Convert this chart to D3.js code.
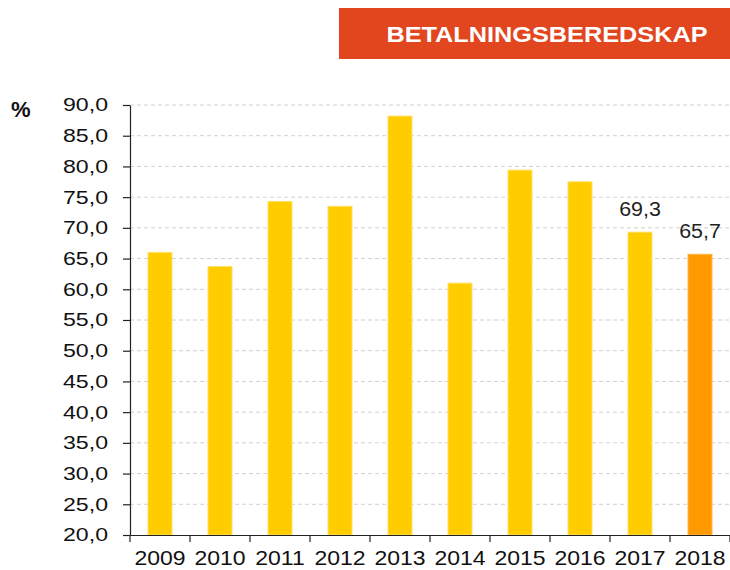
<!DOCTYPE html>
<html>
<head>
<meta charset="utf-8">
<script src="https://cdn.jsdelivr.net/npm/d3@7"></script>
<style>
  body { margin: 0; background: #fff; }
  svg { font-family: "Liberation Sans", Arial, sans-serif; }
</style>
</head>
<body>
<svg id="chart" width="730" height="570"></svg>
<script>
// data
const years = ['2009', '2010', '2011', '2012', '2013', '2014', '2015', '2016', '2017', '2018'];
const values = [66.0, 63.7, 74.3, 73.5, 88.2, 61.0, 79.4, 77.5, 69.3, 65.7];
const labelled = ['2017', '2018'];
const yTicks = [20, 25, 30, 35, 40, 45, 50, 55, 60, 65, 70, 75, 80, 85, 90];

const svg = d3.select('#chart');
const fmt = v => d3.format('.1f')(v).replace('.', ',');

const x = d3.scaleBand().domain(years).range([130, 730]).paddingInner(0.6).paddingOuter(0.3);
const y = d3.scaleLinear().domain([20, 90]).range([535, 105]);

// title box
svg.append('rect')
  .attr('x', 339).attr('y', 8).attr('width', 391).attr('height', 51)
  .attr('fill', '#E2461F');
svg.append('text')
  .attr('transform', 'translate(547,42) scale(1.15,1)')
  .attr('text-anchor', 'middle')
  .attr('fill', '#fff')
  .attr('font-weight', 'bold')
  .attr('font-size', 22)
  .text('BETALNINGSBEREDSKAP');

// gridlines
svg.append('g')
  .selectAll('line')
  .data(yTicks.slice(1))
  .enter()
  .append('line')
  .attr('x1', 130).attr('x2', 730)
  .attr('y1', d => y(d)).attr('y2', d => y(d))
  .attr('stroke', '#d0d0d0')
  .attr('stroke-dasharray', '4,3');

// bars
svg.append('g')
  .selectAll('rect')
  .data(years)
  .enter()
  .append('rect')
  .attr('x', d => x(d))
  .attr('y', (d, i) => y(values[i]))
  .attr('width', x.bandwidth())
  .attr('height', (d, i) => y(20) - y(values[i]))
  .attr('fill', d => d === '2018' ? '#FF9900' : '#FFCC00')
  .attr('stroke', d => d === '2018' ? '#FFB84D' : '#FFE066')
  .attr('stroke-width', 1);

// value labels
svg.append('g')
  .selectAll('text')
  .data(years.filter(d => labelled.includes(d)))
  .enter()
  .append('text')
  .attr('transform', d => `translate(${x(d) + x.bandwidth() / 2},${y(values[years.indexOf(d)]) - 16}) scale(1.1,1)`)
  .attr('text-anchor', 'middle')
  .attr('font-size', 19.5)
  .attr('fill', '#222')
  .text(d => fmt(values[years.indexOf(d)]));

// y axis
const yAxis = d3.axisLeft(y).tickValues(yTicks).tickFormat(fmt).tickSize(7).tickSizeOuter(0);
const gy = svg.append('g').attr('transform', 'translate(130,0)').call(yAxis);
gy.selectAll('text')
  .attr('font-size', 18.5)
  .attr('fill', '#111')
  .attr('x', -17.6)
  .attr('transform', 'scale(1.25,1)');
gy.selectAll('line, path').attr('stroke', '#222').attr('stroke-width', 1.2);

// x axis
const xAxis = d3.axisBottom(x).tickSize(0).tickSizeOuter(0);
const gx = svg.append('g').attr('transform', 'translate(0,535)').call(xAxis);
gx.selectAll('.tick text')
  .attr('font-size', 20)
  .attr('fill', '#111')
  .attr('dy', null)
  .attr('y', 30)
  .attr('transform', 'scale(1.15,1)');
gx.selectAll('.tick').attr('transform', d => `translate(${x(d) + x.bandwidth() / 2},0)`);
gx.select('path').attr('stroke', '#222').attr('stroke-width', 1.2);
gx.selectAll('.sep')
  .data(d3.range(years.length + 1))
  .enter()
  .append('line')
  .attr('x1', i => 130 + i * x.step()).attr('x2', i => 130 + i * x.step())
  .attr('y1', 0).attr('y2', 7)
  .attr('stroke', '#222').attr('stroke-width', 1.2);

// unit
svg.append('text')
  .attr('x', 11).attr('y', 117)
  .attr('font-size', 22)
  .attr('font-weight', 'bold')
  .attr('fill', '#111')
  .text('%');
</script>
</body>
</html>
